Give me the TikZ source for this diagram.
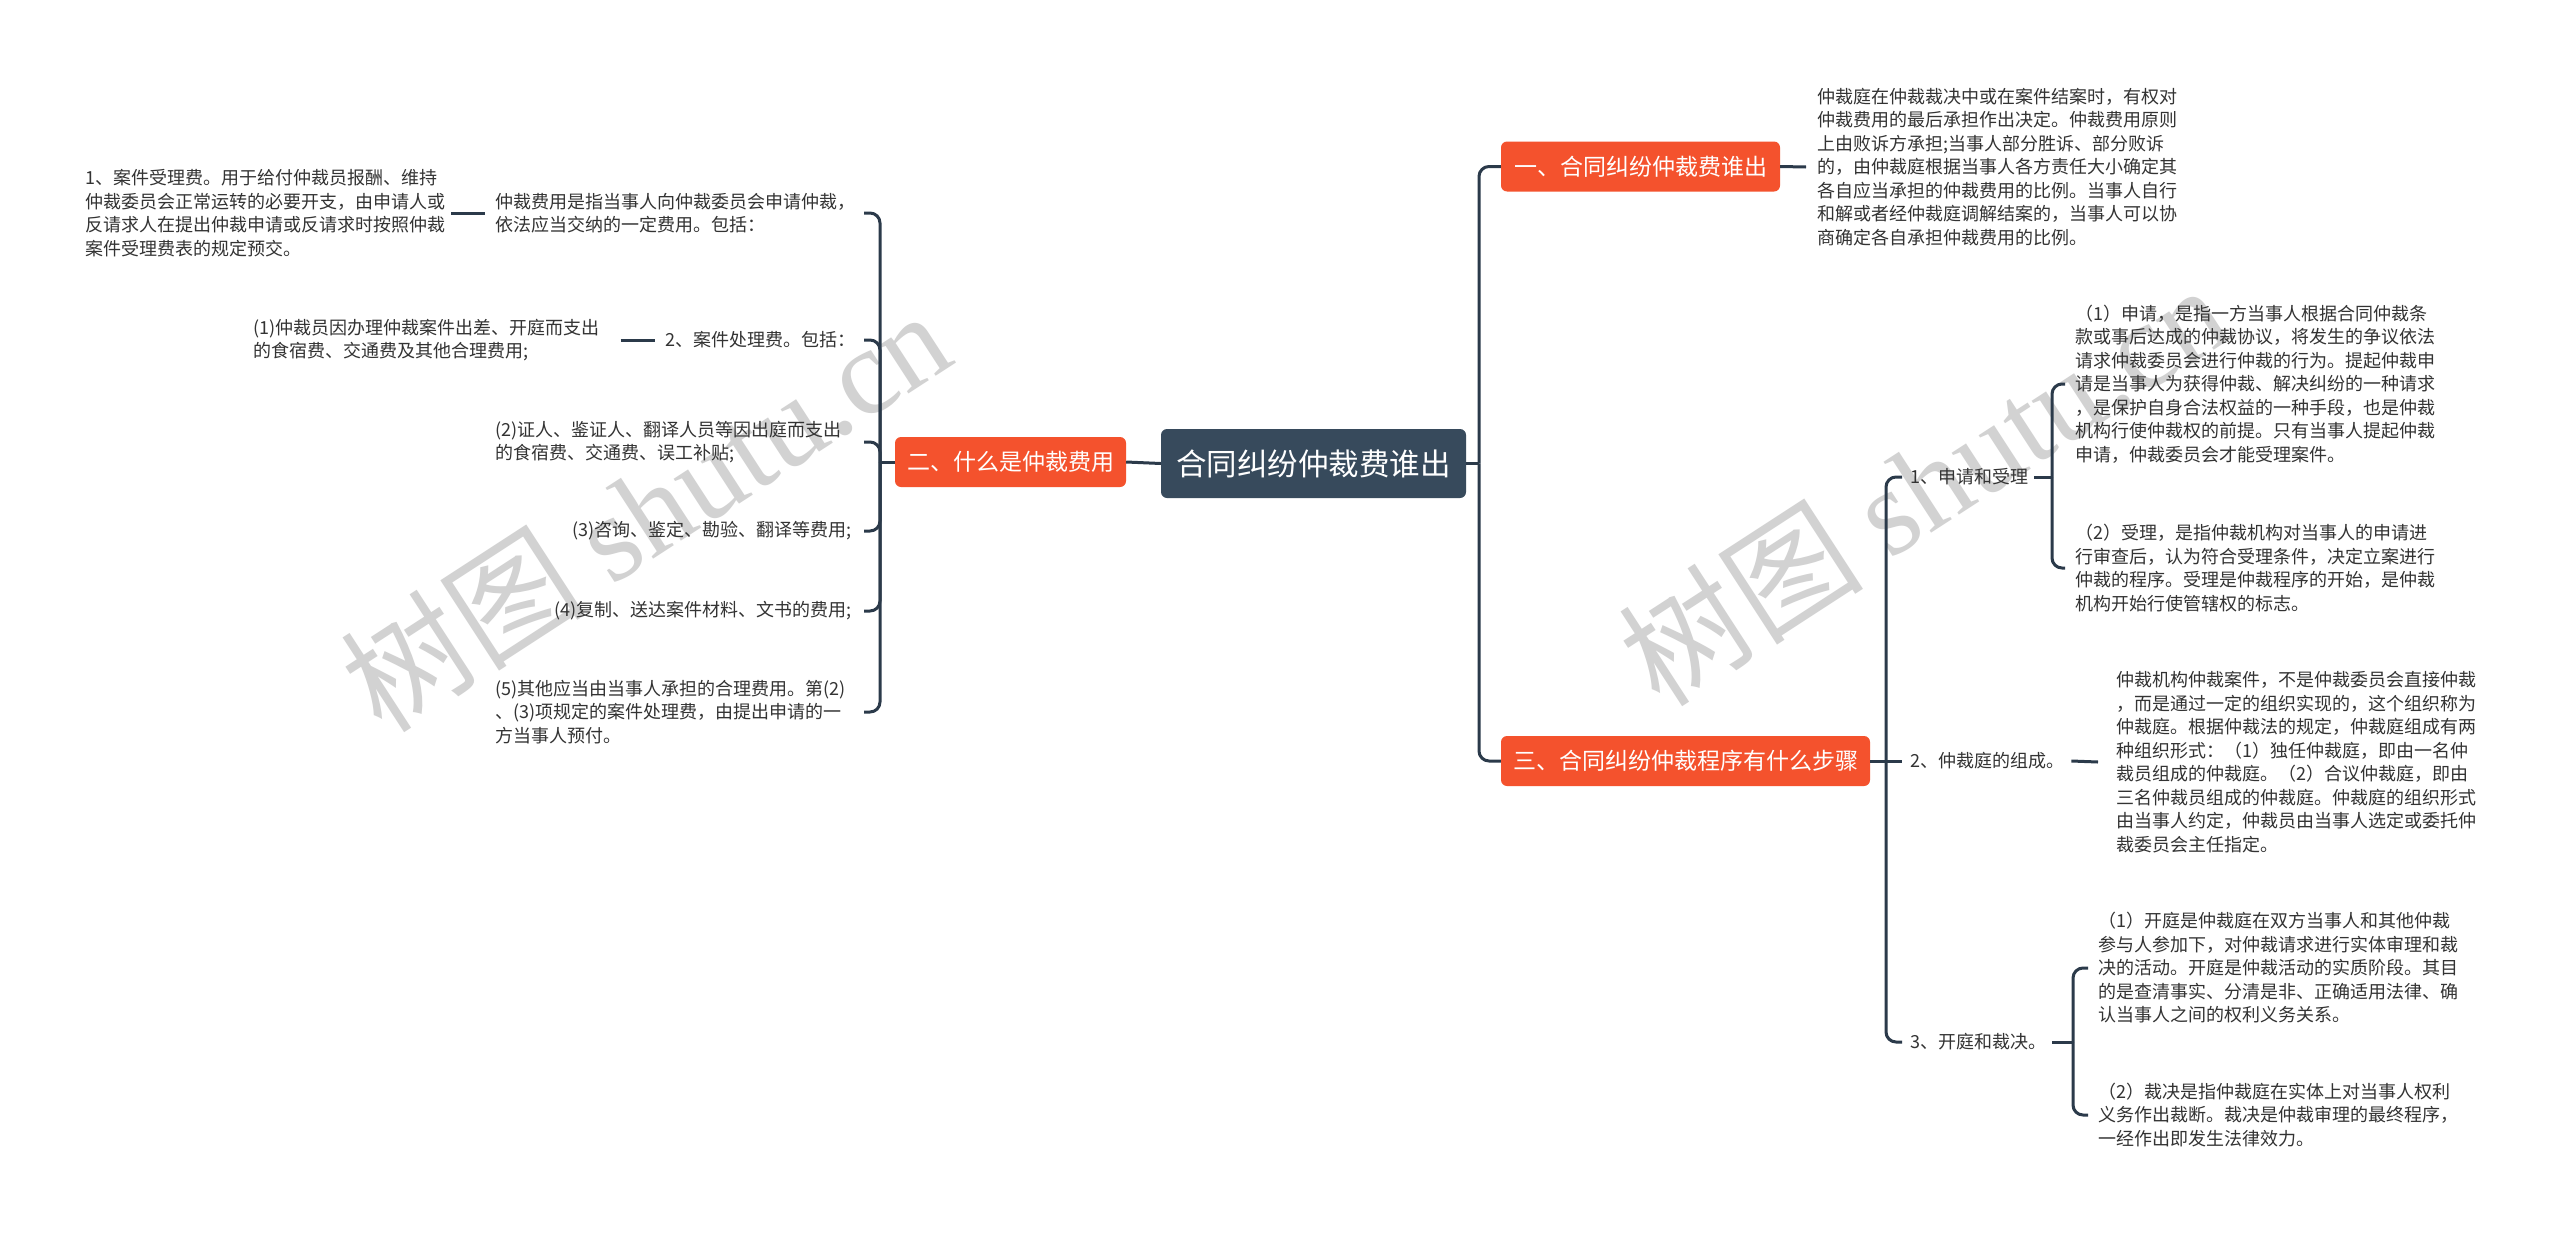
\documentclass[tikz,border=0pt]{standalone}
\usepackage{fontspec}
\setmainfont{Noto Sans CJK SC}
\newfontfamily\wmserif{Liberation Serif}
\usetikzlibrary{calc}
\definecolor{rootc}{HTML}{374A5C}
\definecolor{mainc}{HTML}{F4522D}
\definecolor{linec}{HTML}{2B3A4A}
\definecolor{txtc}{HTML}{333333}
\definecolor{wmc}{HTML}{D2D2D2}
\begin{document}
\begin{tikzpicture}[x=1pt,y=-1pt,
  conn/.style={draw=linec, line width=3pt, rounded corners=10pt},
  rootbox/.style={fill=rootc, text=white, rounded corners=6pt, font=\fontsize{30.5}{36}\selectfont, minimum width=305pt, minimum height=69pt, inner sep=0pt},
  mainbox/.style={fill=mainc, text=white, rounded corners=6pt, font=\fontsize{23}{28}\selectfont, minimum height=50pt, inner xsep=12pt, inner ysep=0pt},
  leaf/.style={text=txtc, font=\fontsize{18}{23.5}\selectfont, align=left, inner sep=0pt},
  wm/.style={text=wmc, rotate=33, anchor=base west, inner sep=0pt, font=\fontsize{123}{128}\selectfont}
]
\useasboundingbox (0,0) rectangle (2560,1237);
\fill[white] (0,0) rectangle (2560,1237);

% watermarks
\node[wm] (wm1) at (382,736) {树图 {\wmserif shutu.cn}};
\node[wm] (wm2) at (1660,710) {树图 {\wmserif shutu.cn}};

% main nodes
\node[rootbox] (root) at (1313.5,463.5) {合同纠纷仲裁费谁出};
\node[mainbox, minimum width=229pt] (m2) at (1010.5,462) {二、什么是仲裁费用};
\node[mainbox, minimum width=279pt] (m1) at (1640.5,166.5) {一、合同纠纷仲裁费谁出};
\node[mainbox, minimum width=369pt] (m3) at (1685.5,761) {三、合同纠纷仲裁程序有什么步骤};

% left leaves
\node[leaf, anchor=west] (L1) at (495,213) {仲裁费用是指当事人向仲裁委员会申请仲裁，\\依法应当交纳的一定费用。包括：};
\node[leaf, anchor=west] (L1a) at (85,213) {1、案件受理费。用于给付仲裁员报酬、维持\\仲裁委员会正常运转的必要开支，由申请人或\\反请求人在提出仲裁申请或反请求时按照仲裁\\案件受理费表的规定预交。};
\node[leaf, anchor=west] (L2) at (665,340) {2、案件处理费。包括：};
\node[leaf, anchor=west] (L2a) at (253,340) {(1)仲裁员因办理仲裁案件出差、开庭而支出\\的食宿费、交通费及其他合理费用;};
\node[leaf, anchor=west] (L3) at (495,442) {(2)证人、鉴证人、翻译人员等因出庭而支出\\的食宿费、交通费、误工补贴;};
\node[leaf, anchor=east] (L4) at (852,531) {(3)咨询、鉴定、勘验、翻译等费用;};
\node[leaf, anchor=east] (L5) at (852,611) {(4)复制、送达案件材料、文书的费用;};
\node[leaf, anchor=west] (L6) at (495,712) {(5)其他应当由当事人承担的合理费用。第(2)\\、(3)项规定的案件处理费，由提出申请的一\\方当事人预付。};

% right leaves
\node[leaf, anchor=west] (R1) at (1817,167) {仲裁庭在仲裁裁决中或在案件结案时，有权对\\仲裁费用的最后承担作出决定。仲裁费用原则\\上由败诉方承担;当事人部分胜诉、部分败诉\\的，由仲裁庭根据当事人各方责任大小确定其\\各自应当承担的仲裁费用的比例。当事人自行\\和解或者经仲裁庭调解结案的，当事人可以协\\商确定各自承担仲裁费用的比例。};
\node[leaf, anchor=west] (S1) at (1910,477) {1、申请和受理};
\node[leaf, anchor=west] (R11) at (2075,384) {（1）申请，是指一方当事人根据合同仲裁条\\款或事后达成的仲裁协议，将发生的争议依法\\请求仲裁委员会进行仲裁的行为。提起仲裁申\\请是当事人为获得仲裁、解决纠纷的一种请求\\，是保护自身合法权益的一种手段，也是仲裁\\机构行使仲裁权的前提。只有当事人提起仲裁\\申请，仲裁委员会才能受理案件。};
\node[leaf, anchor=west] (R12) at (2075,568) {（2）受理，是指仲裁机构对当事人的申请进\\行审查后，认为符合受理条件，决定立案进行\\仲裁的程序。受理是仲裁程序的开始，是仲裁\\机构开始行使管辖权的标志。};
\node[leaf, anchor=west] (S2) at (1910,761) {2、仲裁庭的组成。};
\node[leaf, anchor=west] (R2) at (2116,762) {仲裁机构仲裁案件，不是仲裁委员会直接仲裁\\，而是通过一定的组织实现的，这个组织称为\\仲裁庭。根据仲裁法的规定，仲裁庭组成有两\\种组织形式：（1）独任仲裁庭，即由一名仲\\裁员组成的仲裁庭。（2）合议仲裁庭，即由\\三名仲裁员组成的仲裁庭。仲裁庭的组织形式\\由当事人约定，仲裁员由当事人选定或委托仲\\裁委员会主任指定。};
\node[leaf, anchor=west] (S3) at (1910,1042) {3、开庭和裁决。};
\node[leaf, anchor=west] (R31) at (2098,968) {（1）开庭是仲裁庭在双方当事人和其他仲裁\\参与人参加下，对仲裁请求进行实体审理和裁\\决的活动。开庭是仲裁活动的实质阶段。其目\\的是查清事实、分清是非、正确适用法律、确\\认当事人之间的权利义务关系。};
\node[leaf, anchor=west] (R32) at (2098,1115) {（2）裁决是指仲裁庭在实体上对当事人权利\\义务作出裁断。裁决是仲裁审理的最终程序，\\一经作出即发生法律效力。};

% junctions
\coordinate (jL) at (880,462);
\coordinate (stubL) at (864,0);
\coordinate (jR) at (1479,463.5);
\coordinate (j3) at (1886,761);
\coordinate (jS1) at (2052,477);
\coordinate (jS3) at (2073,1042);

% left connectors
\draw[conn] (m2.west) -- (jL);
\foreach \n in {L1,L2,L3,L4,L5,L6} { \draw[conn] (jL) |- (\n.east -| stubL); }
\draw[conn] ([xshift=6pt]L1a.east) -- ([xshift=-10pt]L1.west);
\draw[conn] ([xshift=21pt]L2a.east) -- ([xshift=-10pt]L2.west);

% right connectors
\draw[conn] (root.east) -- (jR);
\draw[conn] (root.west) -- (m2.east);
\draw[conn] (jR) |- (m1.west);
\draw[conn] (jR) |- (m3.west);
\draw[conn] (m1.east) -- ([xshift=-11pt]R1.west);
\draw[conn] (m3.east) -- ([xshift=-8pt]S2.west);
\draw[conn] (j3) |- ([xshift=-8pt]S1.west);
\draw[conn] (j3) |- ([xshift=-8pt]S3.west);
\draw[conn] ([xshift=6pt]S1.east) -- (jS1);
\draw[conn] (jS1) |- ([xshift=-10pt]R11.west);
\draw[conn] (jS1) |- ([xshift=-10pt]R12.west);
\draw[conn] ([xshift=7pt]S2.east) -- ([xshift=-18pt]R2.west);
\draw[conn] ([xshift=6pt]S3.east) -- (jS3);
\draw[conn] (jS3) |- ([xshift=-10pt]R31.west);
\draw[conn] (jS3) |- ([xshift=-10pt]R32.west);
\end{tikzpicture}
\end{document}
